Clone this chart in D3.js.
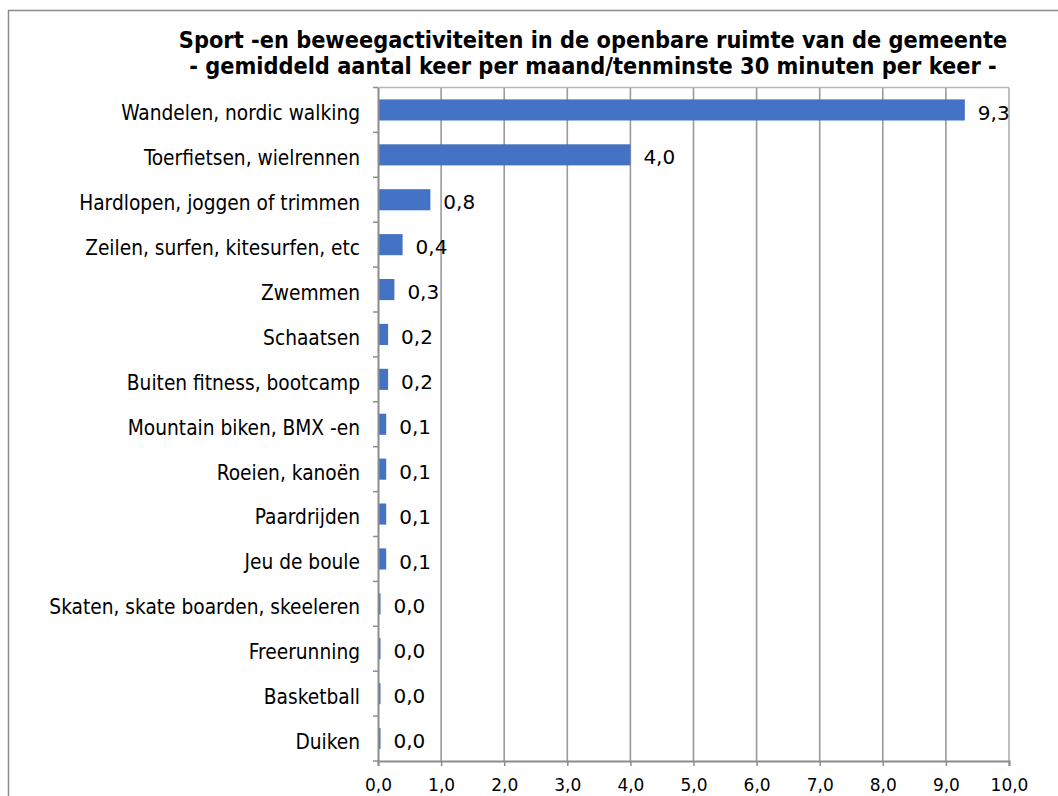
<!DOCTYPE html>
<html><head><meta charset="utf-8">
<script src="https://cdn.jsdelivr.net/npm/d3@7"></script>
<style>body{margin:0;background:#fff}svg{display:block}</style>
</head><body>
<script>
const categories = ["Wandelen, nordic walking","Toerfietsen, wielrennen","Hardlopen, joggen of trimmen","Zeilen, surfen, kitesurfen, etc","Zwemmen","Schaatsen","Buiten fitness, bootcamp","Mountain biken, BMX -en","Roeien, kanoën","Paardrijden","Jeu de boule","Skaten, skate boarden, skeeleren","Freerunning","Basketball","Duiken"];
const values = [9.3,4.0,0.83,0.39,0.26,0.16,0.16,0.13,0.13,0.13,0.13,0.04,0.04,0.04,0.04];
const valueLabels = ["9,3","4,0","0,8","0,4","0,3","0,2","0,2","0,1","0,1","0,1","0,1","0,0","0,0","0,0","0,0"];
const ticks = [0,1,2,3,4,5,6,7,8,9,10];
const titleLines = ["Sport -en beweegactiviteiten in de openbare ruimte van de gemeente","- gemiddeld aantal keer per maand/tenminste 30 minuten per keer -"];

const W=1058,H=796;
const svg=d3.select("body").append("svg").attr("width",W).attr("height",H);
// frame
svg.append("path").attr("d",`M8.5,${H} V10.5 H${W}`).attr("fill","none").attr("stroke","#8c8c8c").attr("stroke-width",1.5);

const L=378,R=1009,T=87.5,B=761;
const x=d3.scaleLinear().domain([0,10]).range([L,R]);
const y=d3.scaleBand().domain(categories).range([T,B]).paddingInner(0.53).paddingOuter(0.265);
const yb=d3.scaleBand().domain(categories).range([T,B]);

// gridlines
svg.append("g").selectAll("line").data(ticks.slice(1)).join("line")
 .attr("x1",d=>x(d)).attr("x2",d=>x(d)).attr("y1",T).attr("y2",B)
 .attr("stroke",(d)=>d===10?"#b0b0b0":"#9a9a9a").attr("stroke-width",1.6);
svg.append("line").attr("x1",L).attr("x2",R).attr("y1",T).attr("y2",T).attr("stroke","#b8b8b8").attr("stroke-width",1.5);

// bars
svg.append("g").selectAll("rect").data(values).join("rect")
 .attr("x",x(0)).attr("y",(d,i)=>y(categories[i])).attr("width",d=>x(d)-x(0)).attr("height",y.bandwidth())
 .attr("fill","#4472c4");

// value labels
svg.append("g").selectAll("text").data(values).join("text")
 .attr("x",d=>x(d)+13).attr("y",(d,i)=>yb(categories[i])+yb.bandwidth()/2+2)
 .attr("dy","0.38em").attr("font-family","DejaVu Sans").attr("font-size",20).attr("fill","#000")
 .text((d,i)=>valueLabels[i]);

// y axis
const ya=svg.append("g").attr("transform",`translate(${L},0)`).call(d3.axisLeft(yb).tickSize(0).tickPadding(18));
ya.select(".domain").attr("stroke","#8c8c8c").attr("stroke-width",2);
ya.selectAll("text").attr("font-family","DejaVu Sans Condensed").attr("font-size",20.7).attr("fill","#000").attr("dy","0.5em");
// category separator ticks
svg.append("g").selectAll("line").data(d3.range(categories.length+1)).join("line")
 .attr("x1",L-5).attr("x2",L).attr("y1",i=>T+i*yb.step()).attr("y2",i=>T+i*yb.step())
 .attr("stroke","#8c8c8c").attr("stroke-width",1.5);

// x axis
const xa=svg.append("g").attr("transform",`translate(0,${B})`).call(d3.axisBottom(x).tickValues(ticks).tickSize(5).tickPadding(13).tickFormat(d=>d3.format(".1f")(d).replace(".",",")));
xa.select(".domain").attr("stroke","#8c8c8c").attr("stroke-width",2);
xa.selectAll("line").attr("stroke","#8c8c8c").attr("stroke-width",1.5);
xa.selectAll("text").attr("font-family","DejaVu Sans").attr("font-size",17).attr("fill","#000");

// title
svg.append("g").selectAll("text").data(titleLines).join("text")
 .attr("x",593).attr("y",(d,i)=>48+i*26).attr("text-anchor","middle")
 .attr("font-family","DejaVu Sans Condensed").attr("font-weight","bold").attr("font-size",23.3).attr("fill","#000")
 .text(d=>d);
</script>
</body></html>
